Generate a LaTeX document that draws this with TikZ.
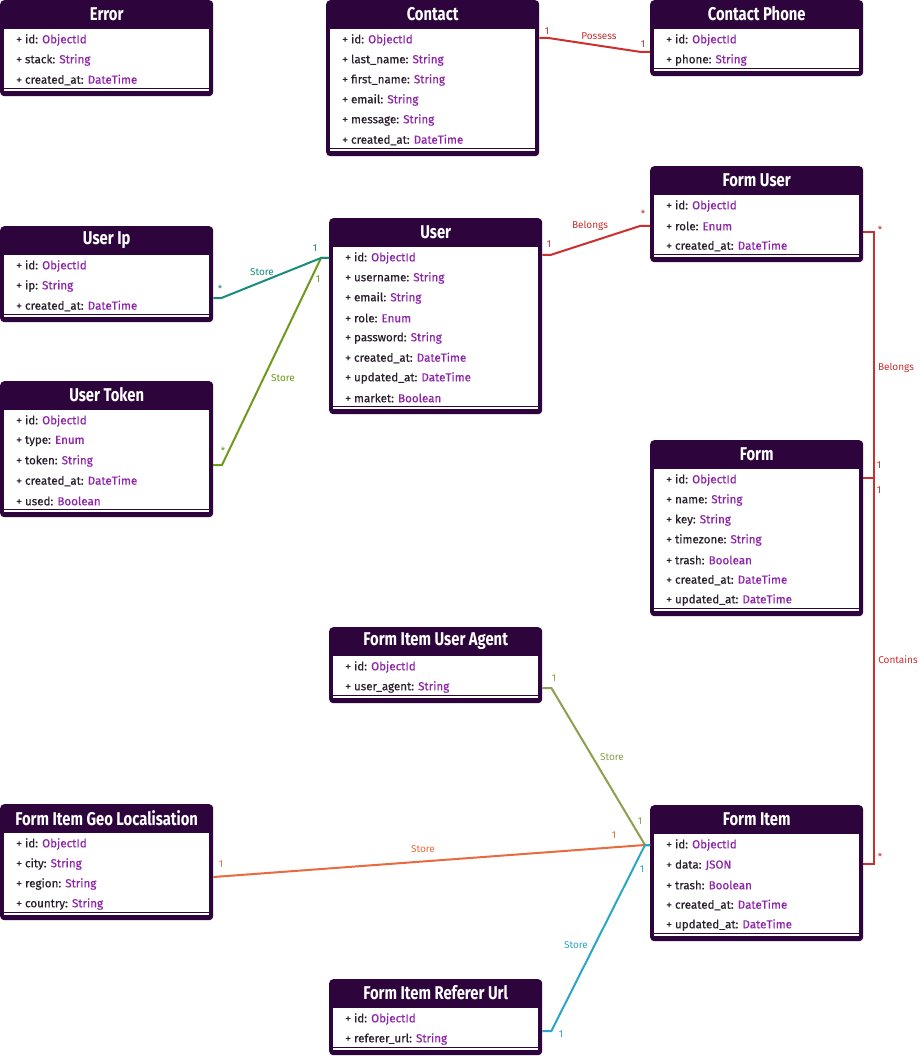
\documentclass[tikz,border=0pt]{standalone}
\usepackage{fontspec}
\setmainfont{Fira Sans}
\newfontfamily\titlefont[FakeStretch=0.8]{Fira Sans}
\newfontfamily\attrfont[FakeBold=0.4]{Fira Sans}
\usepackage{tikz}
\usetikzlibrary{calc,positioning}
\definecolor{ClassDark}{HTML}{2D053C}
\definecolor{TypeColor}{HTML}{8E24AA}
\definecolor{AttrColor}{HTML}{2A1F2D}
\definecolor{RelRed}{HTML}{CC2F2F}
\definecolor{RelTeal}{HTML}{1A8C7E}
\definecolor{RelOlive}{HTML}{6E9A1E}
\definecolor{RelSage}{HTML}{8CA04E}
\definecolor{RelOrange}{HTML}{E86A3E}
\definecolor{RelCyan}{HTML}{2AA7C6}

% #1 name, #2 x, #3 y, #4 rows, #5 title, #6 fields
\newcommand{\umlclass}[6]{%
  \node[classbox, minimum height={36+20*#4}, anchor=north west] (#1) at (#2,#3) {};
  \fill[white] ($(#1.north west)+(4,29)$) rectangle ($(#1.south east)+(-4,-5)$);
  \draw[ClassDark, line width=1.3] ($(#1.south west)+(4,-7.6)$) -- ($(#1.south east)+(-4,-7.6)$);
  \node[classtitle] (#1-title) at ($(#1.north)+(0,14)$) {#5};
  \foreach \f/\t [count=\i] in {#6}
    \node[attr] (#1-\i) at ($(#1.north west)+(16,20+20*\i)$) {+ \f: \textcolor{TypeColor}{\t}};
}

\begin{document}
\begin{tikzpicture}[
    x=1pt, y=-1pt,
    classbox/.style={rectangle, fill=ClassDark, rounded corners=4pt, minimum width=213, inner sep=0},
    classtitle/.style={text=white, font=\titlefont\bfseries\fontsize{18.5}{20}\selectfont, inner sep=0},
    attr/.style={anchor=west, text=AttrColor, font=\attrfont\fontsize{11.6}{13}\selectfont, inner sep=0},
    rel/.style={draw=#1, line width=2},
    lbl/.style={text=#1, font=\fontsize{10}{11}\selectfont, inner sep=0}
]
    \useasboundingbox[fill=white] (0,0) rectangle (919,1056);

    % classes
    \umlclass{error}{0}{0}{3}{Error}{id/ObjectId, stack/String, created\_at/DateTime}
    \umlclass{contact}{326}{0}{6}{Contact}{id/ObjectId, last\_name/String, first\_name/String, email/String, message/String, created\_at/DateTime}
    \umlclass{phone}{650}{0}{2}{Contact Phone}{id/ObjectId, phone/String}
    \umlclass{formuser}{650}{166}{3}{Form User}{id/ObjectId, role/Enum, created\_at/DateTime}
    \umlclass{userip}{0}{226}{3}{User Ip}{id/ObjectId, ip/String, created\_at/DateTime}
    \umlclass{user}{329}{218}{8}{User}{id/ObjectId, username/String, email/String, role/Enum, password/String, created\_at/DateTime, updated\_at/DateTime, market/Boolean}
    \umlclass{usertoken}{0}{381}{5}{User Token}{id/ObjectId, type/Enum, token/String, created\_at/DateTime, used/Boolean}
    \umlclass{form}{650}{440}{7}{Form}{id/ObjectId, name/String, key/String, timezone/String, trash/Boolean, created\_at/DateTime, updated\_at/DateTime}
    \umlclass{agent}{329}{627}{2}{Form Item User Agent}{id/ObjectId, user\_agent/String}
    \umlclass{geo}{0}{804}{4}{Form Item Geo Localisation}{id/ObjectId, city/String, region/String, country/String}
    \umlclass{item}{650}{805}{5}{Form Item}{id/ObjectId, data/JSON, trash/Boolean, created\_at/DateTime, updated\_at/DateTime}
    \umlclass{referer}{329}{979}{2}{Form Item Referer Url}{id/ObjectId, referer\_url/String}

    % relations
    \draw[rel=RelRed] ($(contact.north east)+(0,38)$) -- ++(9,0) -- ($(phone.north west)+(-9,52)$) -- ++(9,0);
    \node[lbl=RelRed] (possess-a) at (547,31) {1};
    \node[lbl=RelRed] (possess) at (599,36) {Possess};
    \node[lbl=RelRed] (possess-b) at (643,44) {1};

    \draw[rel=RelRed] ($(user.north east)+(0,37)$) -- ++(8,0) -- ($(formuser.north west)+(-10,60)$) -- ++(10,0);
    \node[lbl=RelRed] (belongs-a) at (549,244) {1};
    \node[lbl=RelRed] (belongs) at (590,226) {Belongs};
    \node[lbl=RelRed] (belongs-b) at (643,214) {*};

    \draw[rel=RelRed] ($(formuser.north east)+(0,66)$) -- ++(10.5,0) |- ($(form.north east)+(0,38)$);
    \node[lbl=RelRed] (member-a) at (880,230) {*};
    \node[lbl=RelRed] (member) at (896,368) {Belongs};
    \node[lbl=RelRed] (member-b) at (879,465) {1};

    \draw[rel=RelRed] ($(form.north east)+(0,38)$) -- ++(10.5,0) |- ($(item.north east)+(0,59)$);
    \node[lbl=RelRed] (contains-a) at (879,490) {1};
    \node[lbl=RelRed] (contains) at (898,660) {Contains};
    \node[lbl=RelRed] (contains-b) at (880,857) {*};

    \draw[rel=RelOlive] ($(usertoken.north west)+(213,84)$) -- ++(9,0) -- ($(user.north west)+(-8,40)$) -- ++(8,0);
    \node[lbl=RelOlive] (token-a) at (223,451) {*};
    \node[lbl=RelOlive] (token) at (283,378) {Store};
    \node[lbl=RelOlive] (token-b) at (318,279) {1};

    \draw[rel=RelTeal] ($(userip.north east)+(0,72)$) -- ++(8,0) -- ($(user.north west)+(-8,40)$) -- ++(8,0);
    \node[lbl=RelTeal] (ip-a) at (220,289) {*};
    \node[lbl=RelTeal] (ip) at (262,272) {Store};
    \node[lbl=RelTeal] (ip-b) at (315,248) {1};

    \draw[rel=RelSage] ($(agent.north east)+(0,61)$) -- ++(9,0) -- ($(item.north west)+(-5,40)$) -- ++(5,0);
    \node[lbl=RelSage] (agent-a) at (554,678) {1};
    \node[lbl=RelSage] (agent-l) at (612,757) {Store};
    \node[lbl=RelSage] (agent-b) at (640,821) {1};

    \draw[rel=RelOrange] ($(geo.north east)+(0,73)$) -- ($(item.north west)+(-5,40)$) -- ++(5,0);
    \node[lbl=RelOrange] (geo-a) at (221,864) {1};
    \node[lbl=RelOrange] (geo-l) at (423,849) {Store};
    \node[lbl=RelOrange] (geo-b) at (614,835) {1};

    \draw[rel=RelCyan] ($(referer.north east)+(0,52)$) -- ++(9,0) -- ($(item.north west)+(-5,40)$) -- ++(5,0);
    \node[lbl=RelCyan] (referer-a) at (561,1034) {1};
    \node[lbl=RelCyan] (referer-l) at (576,945) {Store};
    \node[lbl=RelCyan] (referer-b) at (642,869) {1};
\end{tikzpicture}
\end{document}
